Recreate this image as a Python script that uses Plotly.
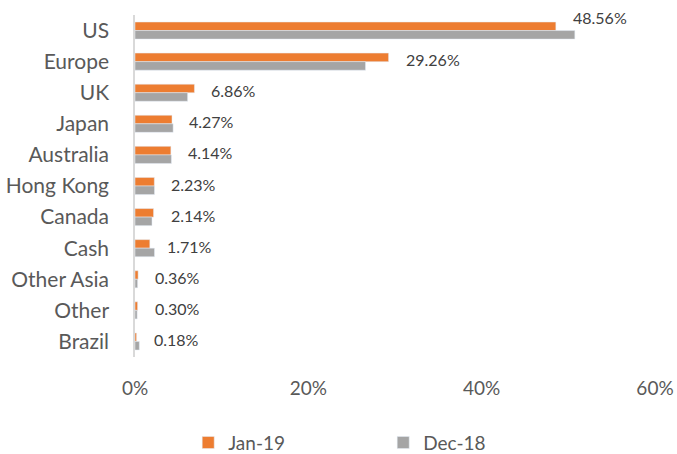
import plotly.graph_objects as go

# Regional allocation, % of portfolio
regions = ["US", "Europe", "UK", "Japan", "Australia", "Hong Kong",
           "Canada", "Cash", "Other Asia", "Other", "Brazil"]
jan_19 = [48.56, 29.26, 6.86, 4.27, 4.14, 2.23, 2.14, 1.71, 0.36, 0.30, 0.18]
dec_18 = [50.75, 26.6, 6.07, 4.4, 4.2, 2.25, 1.96, 2.25, 0.3, 0.25, 0.5]
x_ticks = [0, 20, 40, 60]
x_tick_text = ["0%", "20%", "40%", "60%"]

ORANGE = "#ED7D31"
GREY = "#A5A5A5"
TEXT = "#595959"
FONT = "Lato"

fig = go.Figure()
fig.add_trace(go.Bar(name="Jan-19", y=regions, x=jan_19, orientation="h",
                     marker_color=ORANGE, hoverinfo="skip"))
fig.add_trace(go.Bar(name="Dec-18", y=regions, x=dec_18, orientation="h",
                     marker_color=GREY, hoverinfo="skip"))

# Value labels for the Jan-19 series, set just past the bar ends
for i, (r, v) in enumerate(zip(regions, jan_19)):
    fig.add_annotation(x=v, y=r, text=f"{v:.2f}%", showarrow=False,
                       xanchor="left", yanchor="middle",
                       xshift=15, yshift=13 if i == 0 else 2,
                       font=dict(family=FONT, size=16, color="#404040"))

fig.update_layout(
    width=677, height=454,
    margin=dict(l=135, r=22, t=15, b=97, autoexpand=False),
    barmode="group", bargap=0.45, bargroupgap=0,
    plot_bgcolor="white", paper_bgcolor="white",
    font=dict(family=FONT, color=TEXT),
    showlegend=True,
    legend=dict(orientation="h", xref="container", yref="container",
                x=0.278, y=0.025, xanchor="left", yanchor="middle",
                entrywidth=150, entrywidthmode="pixels",
                font=dict(family=FONT, size=19, color=TEXT),
                traceorder="normal"),
)
fig.update_xaxes(range=[0, 60], tickvals=x_ticks, ticktext=x_tick_text,
                 showgrid=False, zeroline=False, showline=False, ticks="",
                 ticklabelstandoff=18, automargin=False,
                 tickfont=dict(family=FONT, size=19, color=TEXT))
fig.update_yaxes(autorange="reversed", showgrid=False, zeroline=False,
                 showline=True, linecolor="#D9D9D9", linewidth=1.5, ticks="",
                 ticklabelstandoff=20, automargin=False,
                 tickfont=dict(family=FONT, size=21, color=TEXT))

fig.write_html("out.html")
